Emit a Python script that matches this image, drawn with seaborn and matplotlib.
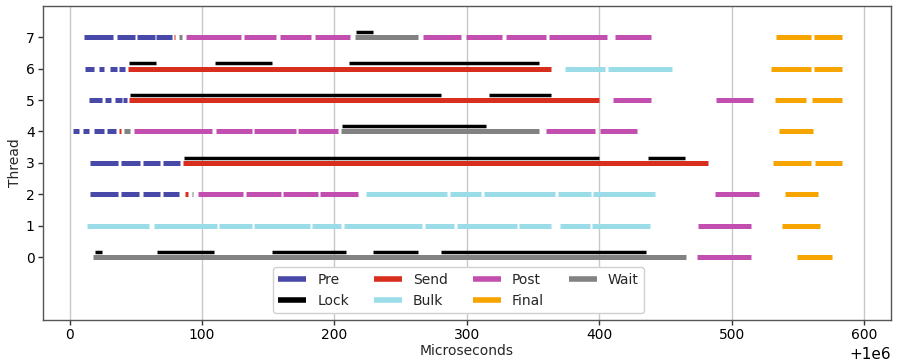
import matplotlib
matplotlib.use("Agg")
import matplotlib.pyplot as plt
from matplotlib.lines import Line2D
import pandas as pd
import seaborn as sns

# Time base of the trace (microseconds); positions below are offsets from it.
BASE_US = 1_000_000

# Phase intervals per category: (thread, start_us, end_us)
PRE = [
    (7, 10.8, 32.7), (7, 35.5, 49.6), (7, 51.3, 64.2), (7, 65.4, 77.7),
    (6, 11.3, 18.4), (6, 22.1, 25.9), (6, 30.7, 35.5), (6, 37.0, 41.5),
    (5, 14.6, 24.2), (5, 26.4, 31.5), (5, 34.0, 39.5), (5, 40.0, 43.3),
    (4, 2.5, 7.0), (4, 10.3, 14.9), (4, 18.6, 25.9), (4, 28.4, 34.9),
    (3, 15.3, 36.7), (3, 38.7, 53.0), (3, 55.1, 68.4), (3, 70.2, 83.2),
    (2, 15.3, 36.5), (2, 38.7, 52.8), (2, 55.1, 68.2), (2, 70.4, 82.8),
]
LOCK = [
    (7, 216.4, 229.0),
    (6, 45.0, 65.4), (6, 110.0, 152.5), (6, 210.8, 354.5),
    (5, 45.5, 280.2), (5, 316.7, 363.8),
    (4, 206.0, 314.7),
    (3, 86.6, 399.7), (3, 436.9, 464.7),
    (0, 18.9, 24.2), (0, 65.9, 108.9), (0, 153.2, 209.1), (0, 229.2, 262.9),
    (0, 280.5, 435.2),
]
SEND = [
    (7, 79.0, 79.8),
    (6, 44.3, 363.5),
    (5, 45.0, 399.8),
    (4, 37.7, 38.7),
    (3, 85.8, 482.3),
    (2, 86.8, 89.8),
]
BULK = [
    (6, 374.3, 404.5), (6, 406.5, 454.6),
    (2, 224.2, 285.3), (2, 287.5, 310.4), (2, 312.7, 366.8), (2, 369.0, 394.0),
    (2, 395.5, 442.0),
    (1, 13.3, 60.2), (1, 63.4, 111.2), (1, 113.0, 137.4), (1, 139.4, 181.4),
    (1, 182.9, 205.1), (1, 207.5, 266.2), (1, 268.0, 290.6), (1, 292.8, 338.1),
    (1, 339.6, 363.8), (1, 370.3, 393.2), (1, 394.7, 438.5),
]
POST = [
    (7, 88.3, 129.8), (7, 132.0, 156.0), (7, 158.7, 182.6), (7, 185.0, 212.0),
    (7, 266.6, 295.8), (7, 299.0, 326.6), (7, 329.6, 360.0), (7, 362.0, 405.5),
    (7, 412.0, 439.0),
    (5, 410.0, 438.7), (5, 488.3, 515.7),
    (4, 48.8, 107.2), (4, 110.2, 137.4), (4, 139.1, 170.6), (4, 172.8, 202.6),
    (4, 360.0, 397.0), (4, 400.2, 428.7),
    (2, 96.8, 131.3), (2, 133.3, 159.5), (2, 161.5, 187.9), (2, 189.4, 217.9),
    (2, 487.0, 520.5),
    (1, 474.5, 514.2),
    (0, 474.0, 514.5),
]
FINAL = [
    (7, 533.6, 560.0), (7, 562.3, 583.4),
    (6, 529.6, 559.8), (6, 562.3, 583.0),
    (5, 532.8, 556.2), (5, 560.8, 583.2),
    (4, 535.3, 561.0),
    (3, 531.0, 560.0), (3, 563.0, 583.2),
    (2, 540.1, 565.3),
    (1, 538.1, 566.8),
    (0, 548.9, 575.3),
]
WAIT = [
    (7, 83.0, 85.0), (7, 215.3, 262.9),
    (4, 41.3, 46.0), (4, 205.3, 354.5),
    (2, 92.5, 93.3),
    (0, 17.6, 465.4),
]

CATEGORIES = ["Pre", "Lock", "Send", "Bulk", "Post", "Final", "Wait"]
SEGMENTS = [PRE, LOCK, SEND, BULK, POST, FINAL, WAIT]
COLORS = ["#4848a8", "#000000", "#d92e1e", "#9adce8", "#c24fb0", "#f5a400", "#828282"]

# Long-format table: two rows (start, end) per interval
rows = []
seg_id = 0
for cat, segs in zip(CATEGORIES, SEGMENTS):
    for thread, start, end in segs:
        for t in (start, end):
            rows.append({"category": cat, "thread": thread,
                         "time": BASE_US + t, "seg": seg_id})
        seg_id += 1
df = pd.DataFrame(rows)

# Lock intervals sit just above their thread's baseline
df["ypos"] = df["thread"] + df["category"].eq("Lock") * 0.17

sns.set_theme(style="ticks", rc={
    "axes.edgecolor": "#555555",
    "axes.linewidth": 1.0,
    "xtick.color": "#333333",
    "ytick.color": "#333333",
})
plt.rcParams["font.family"] = ["DejaVu Sans"]

fig = plt.figure(figsize=(8.97, 3.62), dpi=100)
ax = fig.add_axes([0.048, 0.116, 0.945, 0.868])

palette = dict(zip(CATEGORIES, COLORS))
main = df[df["category"] != "Lock"]
lock = df[df["category"] == "Lock"]

sns.lineplot(data=main, x="time", y="ypos", hue="category", units="seg",
             estimator=None, palette=palette, hue_order=CATEGORIES,
             linewidth=3.6, solid_capstyle="butt", sort=False,
             legend=False, ax=ax, zorder=2)
sns.lineplot(data=lock, x="time", y="ypos", hue="category", units="seg",
             estimator=None, palette=palette, linewidth=2.5,
             solid_capstyle="butt", sort=False, legend=False, ax=ax, zorder=3)

ax.set_xlim(BASE_US - 20, BASE_US + 620)
ax.set_ylim(-2, 8)
ax.set_yticks(range(8))
ax.set_xticks([BASE_US + v for v in range(0, 601, 100)])
ax.ticklabel_format(axis="x", style="plain", useOffset=BASE_US)
ax.grid(axis="x", color="#c8c8c8", linewidth=1.0)
ax.grid(axis="y", visible=False)
ax.set_axisbelow(True)
for side in ("top", "right"):
    ax.spines[side].set_visible(True)
ax.tick_params(labelsize=10, length=3.5, width=1, pad=2.5, colors="#333333",
               labelcolor="black")

ax.set_xlabel("Microseconds", fontsize=10, labelpad=1.5)
ax.set_ylabel("Thread", fontsize=10, labelpad=3)

handles = [Line2D([], [], color=c, linewidth=4, solid_capstyle="butt")
           for c in COLORS]
ax.legend(handles, CATEGORIES, ncol=4, loc="lower center",
          bbox_to_anchor=(0.49, 0.0), fontsize=10, frameon=True,
          edgecolor="#d0d0d0", framealpha=1.0, columnspacing=1.8,
          handletextpad=0.8)

fig.savefig("out.png", dpi=100)
